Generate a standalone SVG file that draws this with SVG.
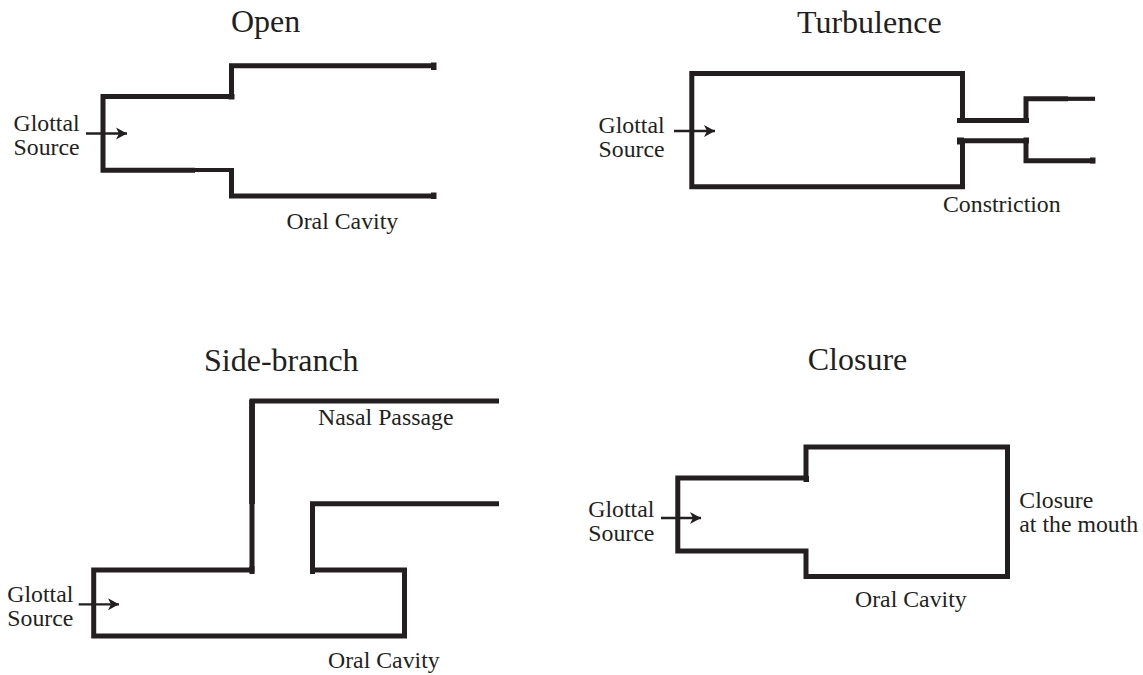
<svg xmlns="http://www.w3.org/2000/svg" width="1143" height="675" viewBox="0 0 1143 675">
<style>
text{font-family:"Liberation Serif","Times New Roman",serif;fill:#231f20;font-size:23.8px}
.t{font-size:32px}
.w{fill:none;stroke:#231f20;stroke-width:5;stroke-linejoin:miter;stroke-linecap:butt}
.n{fill:none;stroke:#231f20;stroke-width:4.2}
.a{fill:none;stroke:#231f20;stroke-width:2.3;marker-end:url(#h)}
.k{fill:#231f20}
</style>
<defs><marker id="h" markerUnits="userSpaceOnUse" markerWidth="13" markerHeight="14" refX="11" refY="7" orient="auto"><path d="M0 1L11 7L0 13L3 7Z" fill="#231f20"/></marker></defs>
<rect width="1143" height="675" fill="#fff"/>
<g id="open">
<text class="t" x="231" y="32">Open</text>
<path class="w" d="M436 65.700H231.500V96.500H103V170.300H195"/>
<path class="n" d="M195 170H231.500"/>
<path class="w" d="M231.500 168V196H436"/>
<rect class="k" x="228.500" y="94" width="6" height="5.500"/><rect class="k" x="431" y="62.500" width="5.500" height="7.500"/><rect class="k" x="431" y="192.500" width="5.500" height="6.500"/>
<text x="13.500" y="131">Glottal</text><text x="13.500" y="155">Source</text>
<text x="286.500" y="229">Oral Cavity</text>
</g>
<g id="turbulence">
<text class="t" x="797" y="32.500">Turbulence</text>
<path class="w" d="M962.500 120.500V73.500H691.800V186.800H962.500V141"/>
<path class="w" d="M957 120.500H1026V98.800H1068"/>
<path class="n" d="M1068 98.800H1095"/>
<path class="w" d="M957 140.800H1026V160.800H1095"/>
<rect class="k" x="957" y="137.500" width="7" height="7"/><rect class="k" x="1023.500" y="137.500" width="5.500" height="6"/><rect class="k" x="1090" y="157.500" width="5.500" height="6"/><rect class="k" x="1023.500" y="118" width="5.500" height="5"/>
<text x="598.500" y="132.700">Glottal</text><text x="598.500" y="156.700">Source</text>
<text x="943" y="212">Constriction</text>
</g>
<g id="side-branch">
<text class="t" x="204" y="370.700">Side-branch</text>
<path class="w" d="M499 401H252V570H93.700V636H404.500V570H312.500V503.700H499"/>
<rect class="k" x="249.200" y="400" width="5.700" height="104"/><rect class="k" x="249.500" y="566" width="5" height="8"/><rect class="k" x="310" y="566" width="5" height="8"/>
<text x="318" y="424.700">Nasal Passage</text>
<text x="7.300" y="602.200">Glottal</text><text x="7.300" y="626.200">Source</text>
<text x="328" y="668.300">Oral Cavity</text>
</g>
<g id="closure">
<text class="t" x="807.700" y="370">Closure</text>
<path class="w" d="M806 478V447H1007.500V576.500H806V551H677.800V478H806"/>
<rect class="k" x="803.500" y="476" width="5.500" height="6"/>
<text x="588.300" y="516.500">Glottal</text><text x="588.300" y="540.500">Source</text>
<text x="1019.300" y="508">Closure</text><text x="1019.300" y="532.300">at the mouth</text>
<text x="855" y="607">Oral Cavity</text>
</g>
<g id="connectors">
<line class="a" x1="86" y1="133.500" x2="127" y2="133.500"/>
<line class="a" x1="674" y1="131" x2="715" y2="131"/>
<line class="a" x1="78.700" y1="604.300" x2="119" y2="604.300"/>
<line class="a" x1="661" y1="518" x2="701" y2="518"/>
</g>
</svg>
